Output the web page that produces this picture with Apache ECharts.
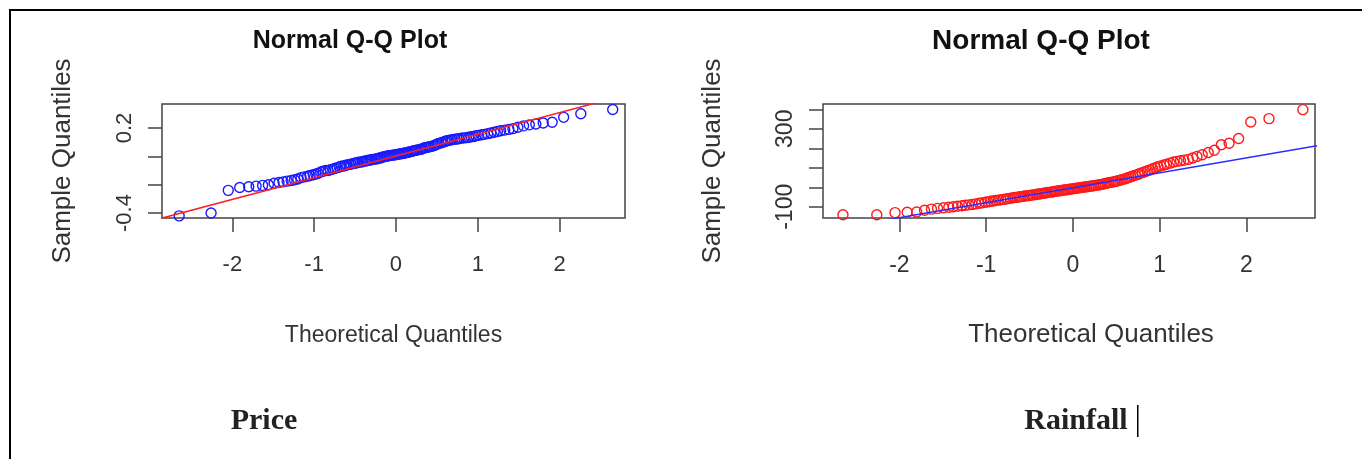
<!DOCTYPE html>
<html>
<head>
<meta charset="utf-8">
<script src="https://cdn.jsdelivr.net/npm/echarts@6/dist/echarts.min.js"></script>
<style>html,body{margin:0;padding:0;background:#fff;}#c{width:1362px;height:459px;}</style>
</head>
<body>
<div id="c"></div>
<script>
// Theoretical quantiles (shared by both panels)
const theoQ = [-2.65,-2.26,-2.05,-1.91,-1.80,-1.71,-1.63,-1.56,-1.49,-1.43,-1.38,-1.33,-1.28,-1.24,-1.20,-1.16,-1.12,-1.08,-1.05,-1.01,-0.98,-0.95,-0.92,-0.89,-0.86,-0.83,-0.80,-0.77,-0.75,-0.72,-0.69,-0.67,-0.64,-0.62,-0.60,-0.57,-0.55,-0.52,-0.50,-0.48,-0.46,-0.43,-0.41,-0.39,-0.37,-0.35,-0.33,-0.31,-0.29,-0.26,-0.24,-0.22,-0.20,-0.18,-0.16,-0.14,-0.12,-0.10,-0.08,-0.06,-0.04,-0.02,0,0.02,0.04,0.06,0.08,0.10,0.12,0.14,0.16,0.18,0.20,0.22,0.24,0.26,0.29,0.31,0.33,0.35,0.37,0.39,0.41,0.43,0.46,0.48,0.50,0.52,0.55,0.57,0.60,0.62,0.64,0.67,0.69,0.72,0.75,0.77,0.80,0.83,0.86,0.89,0.92,0.95,0.98,1.01,1.05,1.08,1.12,1.16,1.20,1.24,1.28,1.33,1.38,1.43,1.49,1.56,1.63,1.71,1.80,1.91,2.05,2.26,2.65];

// Sample quantiles: Price
const priceQ = [-0.42,-0.40,-0.24,-0.22,-0.215,-0.21,-0.205,-0.20,-0.19,-0.185,
-0.18,-0.175,-0.17,-0.165,-0.16,-0.15,-0.145,-0.14,-0.135,-0.13,
-0.125,-0.12,-0.11,-0.105,-0.10,-0.10,-0.095,-0.09,-0.085,-0.08,
-0.075,-0.07,-0.068,-0.065,-0.06,-0.058,-0.055,-0.05,-0.048,-0.045,
-0.042,-0.04,-0.038,-0.035,-0.032,-0.03,-0.028,-0.025,-0.022,-0.02,
-0.018,-0.015,-0.012,-0.01,-0.005,-0.002,0.0,0.002,0.005,0.007,
0.008,0.01,0.012,
0.014,0.016,0.018,0.02,0.022,0.025,0.028,0.03,0.033,0.036,
0.04,0.042,0.045,0.048,0.05,0.055,0.06,0.062,0.065,0.068,
0.07,0.075,0.08,0.085,0.09,0.095,0.10,0.105,0.11,0.112,
0.115,0.118,0.12,0.122,0.125,0.128,0.13,0.132,0.135,0.138,
0.14,0.145,0.148,0.152,0.155,0.16,0.165,0.17,0.175,0.18,
0.185,0.19,0.195,0.205,0.215,0.222,0.228,0.235,0.24,0.275,
0.30,0.33];

// Sample quantiles: Rainfall
const rainQ = [-141,-141,-130,-128,-127,-118,-112,-108,-105,-102,
-100,-97,-95,-92,-90,-88,-85,-82,-80,-77,
-75,-72,-70,-68,-66,-64,-62,-60,-58,-56,
-54,-52,-51,-49,-48,-46,-45,-43,-42,-40,
-39,-37,-36,-34,-33,-31,-30,-28,-27,-25,
-24,-22,-21,-19,-18,-17,-15,-14,-13,-12,
-10,-9,-8,
-6,-5,-4,-2,-1,0,2,3,4,6,
7,8,10,12,13,15,17,19,21,23,
25,27,29,31,34,37,40,43,46,50,
54,58,62,66,71,75,80,85,89,95,
100,105,110,114,118,124,130,133,136,139,
143,150,158,167,178,190,218,226,250,335,352,398];

// Reference (qq) lines: endpoints [x, y]
const priceLineX = [-2.9, 2.9];
const priceLineY = [-0.442, 0.446];
const rainLineX = [-2.9, 2.9];
const rainLineY = [-224.6, 219.6];

// Tick values / labels
const xTicks = [-2, -1, 0, 1, 2];
const priceYTicks = [-0.4, -0.2, 0, 0.2];
const priceYLabels = [-0.4, 0.2];
const rainYTicks = [-100, 0, 100, 200, 300, 400];
const rainYLabels = [-100, 300];

const titles = ['Normal Q-Q Plot', 'Normal Q-Q Plot'];
const captions = ['Price', 'Rainfall'];

const FONT = 'Liberation Sans, Arial, sans-serif';
const AX = '#444';

function xAxisDef(gi, min, max, fs, nameFs, gap, namePad) {
  return {
    type: 'value', gridIndex: gi, min: min, max: max, position: 'bottom',
    axisLine: {show: false, onZero: false},
    splitLine: {show: false},
    axisTick: {show: true, length: 14, lineStyle: {color: AX, width: 1.5}, customValues: xTicks},
    axisLabel: {show: true, margin: 36, fontSize: fs, color: '#333', fontFamily: FONT, customValues: xTicks},
    name: 'Theoretical Quantiles', nameLocation: 'middle', nameGap: gap,
    nameTextStyle: {fontSize: nameFs, color: '#333', fontFamily: FONT, padding: namePad}
  };
}
function yAxisDef(gi, min, max, ticks, labels, fs, nameFs, gap) {
  return {
    type: 'value', gridIndex: gi, min: min, max: max, position: 'left',
    axisLine: {show: false, onZero: false},
    splitLine: {show: false},
    axisTick: {show: true, length: 14, lineStyle: {color: AX, width: 1.5}, customValues: ticks},
    axisLabel: {show: true, rotate: 90, margin: 26, fontSize: fs, color: '#333', fontFamily: FONT, customValues: labels},
    name: 'Sample Quantiles', nameLocation: 'middle', nameGap: gap,
    nameTextStyle: {fontSize: nameFs, color: '#333', fontFamily: FONT}
  };
}

const chart = echarts.init(document.getElementById('c'), null, {renderer: 'canvas'});
chart.setOption({
  animation: false,
  backgroundColor: '#fff',
  grid: [
    {left: 162, top: 104, width: 463, height: 114, show: true, borderColor: '#444', borderWidth: 1.5, backgroundColor: 'transparent', outerBoundsMode: 'none'},
    {left: 823, top: 104, width: 492, height: 114, show: true, borderColor: '#444', borderWidth: 1.5, backgroundColor: 'transparent', outerBoundsMode: 'none'}
  ],
  xAxis: [
    xAxisDef(0, -2.86, 2.80, 22, 23, 106, [0, 0, 0, 0]),
    xAxisDef(1, -2.88, 2.79, 23, 26, 104, [0, 0, 0, 44])
  ],
  yAxis: [
    yAxisDef(0, -0.435, 0.369, priceYTicks, priceYLabels, 22, 26, 86),
    yAxisDef(1, -157.5, 427, rainYTicks, rainYLabels, 23, 26, 97)
  ],
  series: [
    {
      type: 'scatter', xAxisIndex: 0, yAxisIndex: 0,
      data: theoQ.map((x, i) => [x, priceQ[i]]),
      symbol: 'circle', symbolSize: 10,
      itemStyle: {color: 'rgba(0,0,0,0)', borderColor: '#1a1aff', borderWidth: 1.4, opacity: 1}
    },
    {
      type: 'line', xAxisIndex: 0, yAxisIndex: 0, clip: true,
      data: priceLineX.map((x, i) => [x, priceLineY[i]]),
      symbol: 'none', lineStyle: {color: '#ff2020', width: 1.5}
    },
    {
      type: 'scatter', xAxisIndex: 1, yAxisIndex: 1,
      data: theoQ.map((x, i) => [x, rainQ[i]]),
      symbol: 'circle', symbolSize: 10,
      itemStyle: {color: 'rgba(0,0,0,0)', borderColor: '#ff1a1a', borderWidth: 1.4, opacity: 1}, z: 2
    },
    {
      type: 'line', xAxisIndex: 1, yAxisIndex: 1, clip: true,
      data: rainLineX.map((x, i) => [x, rainLineY[i]]),
      symbol: 'none', lineStyle: {color: '#2a2aff', width: 1.5}, z: 3
    }
  ],
  graphic: [
    {type: 'polyline', shape: {points: [[10, 459], [10, 10], [1362, 10]]}, style: {stroke: '#000', lineWidth: 2, fill: null}},
    {type: 'text', x: 350, y: 41, style: {text: titles[0], font: 'bold 25px ' + FONT, fill: '#111', align: 'center', verticalAlign: 'middle'}},
    {type: 'text', x: 1041, y: 41, style: {text: titles[1], font: 'bold 28px ' + FONT, fill: '#111', align: 'center', verticalAlign: 'middle'}},
    {type: 'text', x: 264, y: 421, style: {text: captions[0], font: 'bold 30px "Liberation Serif", "Times New Roman", serif', fill: '#222', align: 'center', verticalAlign: 'middle'}},
    {type: 'text', x: 1076, y: 421, style: {text: captions[1], font: 'bold 30px "Liberation Serif", "Times New Roman", serif', fill: '#222', align: 'center', verticalAlign: 'middle'}},
    {type: 'rect', shape: {x: 1137, y: 405, width: 1.5, height: 32}, style: {fill: '#000'}}
  ]
});
</script>
</body>
</html>
